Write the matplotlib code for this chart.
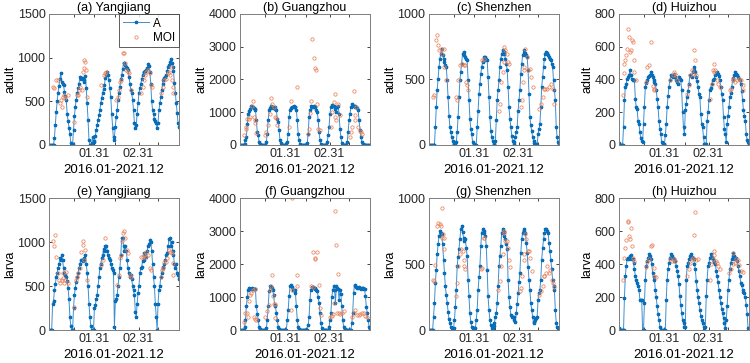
import numpy as np
import matplotlib
matplotlib.use('Agg')
import matplotlib.pyplot as plt

plt.rcParams['font.family'] = ['Liberation Sans', 'DejaVu Sans']

# semi-monthly series, 2016.01 - 2021.12 (24 values per year)
yj_adult = [0,0,0,0,0,0,80,230,380,500,600,680,760,820,720,700,690,610,560,520,350,280,200,130,20,0,
            10,170,330,440,520,590,650,700,780,760,770,760,740,720,790,650,480,290,60,0,0,20,95,
            40,38,100,172,230,286,340,400,477,540,592,640,687,763,801,832,800,740,650,550,360,200,57,
            95,210,320,400,515,600,668,750,800,870,935,935,916,897,880,860,782,700,630,600,515,400,250,
            200,230,350,480,600,650,700,750,800,830,840,850,860,880,930,900,830,700,500,400,350,300,280,250,190,
            250,400,480,553,630,700,744,763,780,800,850,897,916,950,985,940,897,850,706,600,477,370,248,210]
gz_adult = [0,0,0,0,0,40,150,245,650,960,1050,1110,1180,1170,1160,1140,1100,1080,755,400,300,90,20,0,
            0,0,0,0,0,90,347,755,1060,1120,1180,1160,1140,1120,1110,1160,1060,806,704,450,143,50,0,0,
            0,0,0,0,90,347,857,1060,1120,1160,1170,1180,1170,1160,1060,755,347,143,30,0,0,0,0,0,
            0,0,50,347,857,1060,1180,1170,1160,1180,1170,1160,1060,1000,755,400,143,30,0,0,0,0,0,0,
            90,300,550,960,1160,1210,1190,1180,1150,1100,1000,1160,1180,960,500,245,60,0,0,0,0,0,90,400,
            750,960,1160,1245,1200,1180,1170,1180,1160,1140,1060,755,450,245,90,20,0,0,0,0,0,0,0,0]
sz_adult = [0,0,0,0,0,0,0,135,289,417,506,596,660,698,729,690,660,634,610,596,494,366,225,135,97,59,30,8,
            8,0,20,100,212,366,494,560,621,698,711,690,672,660,647,494,340,200,120,84,20,8,
            0,0,0,135,263,391,468,545,596,634,650,672,668,660,647,519,366,212,110,59,30,8,
            0,33,187,340,420,494,596,660,698,724,710,698,660,620,570,442,289,200,135,72,30,8,
            20,59,100,135,263,340,417,545,621,685,700,724,700,685,672,570,391,212,150,110,60,33,15,8,
            8,0,84,120,161,289,442,520,596,660,698,711,700,685,672,660,647,620,596,494,420,340,135,60,20,8]
hz_adult = [10,0,0,0,0,108,272,354,374,405,415,425,456,425,400,395,399,395,282,231,221,149,129,78,40,27,20,130,
            231,354,380,395,415,420,425,446,430,415,395,385,374,333,280,231,149,100,68,16,6,6,6,
            60,129,231,300,354,395,425,420,415,436,430,415,395,385,374,415,400,395,333,200,108,68,
            211,252,292,330,374,425,420,415,446,460,477,446,415,390,354,310,292,190,130,108,47,6,6,6,
            149,200,272,333,350,374,395,400,405,425,440,446,436,420,395,354,310,272,170,100,68,16,
            129,180,231,292,320,354,395,410,425,446,435,425,415,405,395,374,330,272,211,180,149,68,30,16,6]
yj_larva = [0,0,0,0,300,330,450,520,600,650,700,750,820,800,850,800,700,650,620,600,560,480,350,150,50,0,
            0,250,400,480,550,600,650,700,750,800,800,780,800,820,850,750,650,500,300,150,50,0,0,0,250,
            280,350,400,500,600,700,750,820,850,900,920,950,960,900,850,820,800,750,700,680,650,30,
            330,350,400,500,600,700,850,1040,1050,950,900,950,900,800,700,650,600,620,580,500,450,400,200,150,
            300,420,500,650,700,720,780,800,870,850,830,900,950,980,1020,1000,900,750,600,500,300,150,0,
            300,450,500,600,650,700,720,750,800,850,880,950,1030,1040,950,1000,900,850,750,700,750,650,620,580]
gz_larva = [0,0,0,0,0,100,306,714,1000,1224,1275,1250,1240,1260,1230,1250,1240,1230,714,500,306,102,20,0,
            0,0,0,0,0,50,306,714,1173,1326,1300,1275,1200,1071,765,714,510,306,102,30,0,0,0,0,
            0,0,0,0,306,600,1020,1326,1377,1300,1224,1224,1200,1122,714,306,100,20,0,0,0,0,0,0,
            0,0,0,150,400,918,1224,1306,1290,1275,1260,1250,1224,1173,1000,816,510,204,50,0,0,0,0,0,
            0,0,100,300,510,1000,1224,1326,1224,816,1326,1275,1250,918,1224,1100,714,306,102,20,0,0,0,0,
            0,0,0,200,510,1122,1377,1326,1300,1280,1275,1290,1275,1250,1270,1260,1240,1250,1020,700,510,300,102,20]
sz_larva = [0,0,0,0,0,102,204,356,458,573,649,713,751,738,725,649,534,433,330,267,204,140,80,51,20,13,10,13,
            76,178,305,484,550,611,687,763,789,740,700,674,687,620,560,382,254,127,60,25,13,10,13,13,
            76,153,305,400,484,636,738,763,750,738,713,636,458,254,150,76,40,13,13,30,51,
            100,127,204,331,484,560,636,738,763,740,713,687,650,611,382,250,178,115,102,95,102,76,60,
            127,200,280,360,433,585,687,738,763,750,738,662,585,480,382,300,204,150,102,51,60,76,90,102,
            229,280,305,382,534,620,687,738,763,763,750,738,662,600,534,460,382,331,305,150,51,20,13,13]
hz_larva = [10,0,0,0,0,0,194,327,388,429,439,429,449,453,429,429,408,367,327,306,286,265,245,184,180,184,0,
            0,163,306,388,418,439,459,449,429,400,347,320,306,245,200,143,100,61,20,0,0,0,0,
            0,0,184,306,367,408,439,459,449,439,418,429,420,388,360,327,280,204,150,102,60,40,20,20,
            306,388,408,429,449,459,445,435,429,400,367,300,245,200,163,120,82,60,41,20,0,20,204,
            306,388,408,439,459,440,429,418,410,398,360,327,290,245,200,163,130,102,70,41,10,60,
            143,245,306,367,408,429,449,469,449,429,439,420,388,360,327,286,270,245,230,224,200,150,100,10,0]

# MOI estimates: time index and value
yj_adult_moi_t = [4,6,8,10,12,13,14,15,16,18,21,28,31,32,33,34,36,37,38,39,40,41,42,57,61,62,63,
                  74,76,77,78,79,81,83,84,85,87,88,90,101,103,104,106,107,109,111,112,113,
                  123,125,127,129,131,132,133,134,135,136,137]
yj_adult_moi_v = [668,649,744,744,477,515,439,553,572,534,572,267,572,572,630,668,630,840,878,973,954,860,553,687,800,828,832,
                  515,553,630,725,744,1050,1050,935,860,840,820,630,592,668,744,800,840,860,820,687,668,
                  592,668,744,752,820,840,800,897,744,668,592]
gz_adult_moi_t = [4,7,7,8,10,11,13,14,15,16,17,18,28,29,31,33,34,35,37,39,40,41,54,56,63,
                  75,76,77,78,79,81,82,84,85,86,88,100,101,103,104,105,106,108,110,
                  121,122,123,125,126,127,128,130,132,133,134]
gz_adult_moi_v = [296,500,551,785,806,857,1183,1336,857,775,673,367,296,398,602,959,1448,1265,1163,857,826,612,551,1336,1775,
                  347,500,990,1336,3223,2642,2336,2285,1244,500,449,551,1010,1316,857,1571,755,1265,908,
                  245,398,551,1652,908,775,1163,551,428,398,347]
sz_adult_moi_t = [4,6,8,9,10,11,13,14,16,17,19,30,31,32,34,36,38,40,41,42,43,58,61,
                  77,78,79,81,82,83,84,86,87,88,101,102,103,104,105,106,108,109,111,112,114,
                  121,123,125,126,128,130,132,134,136,138]
sz_adult_moi_v = [366,378,800,839,762,724,729,698,729,596,494,366,345,494,609,621,609,609,481,455,422,647,660,
                  263,315,481,557,634,749,724,698,634,621,289,340,481,570,596,736,672,570,583,519,442,
                  276,315,366,430,430,430,442,468,430,315]
hz_adult_moi_t = [4,5,6,7,8,9,10,11,12,13,14,15,16,17,19,30,31,33,35,37,38,39,56,59,61,63,64,
                  75,77,78,80,81,82,84,85,100,102,103,104,105,106,108,109,111,
                  122,123,125,126,128,130,132,134,136,137]
hz_adult_moi_v = [303,440,497,518,548,589,706,661,569,579,644,630,518,446,395,385,477,487,630,358,344,333,395,425,446,425,395,
                  313,364,425,456,436,579,522,425,282,374,456,446,497,456,395,374,354,
                  333,344,395,405,385,399,405,399,364,333]
yj_larva_moi_t = [4,6,7,8,10,11,12,14,15,15,16,18,19,21,28,30,31,32,34,35,37,37,38,40,42,57,59,62,
                  75,77,78,79,80,81,83,84,86,87,89,90,101,103,104,106,107,109,111,112,
                  123,124,126,127,129,130,132,133,135,136,137]
yj_larva_moi_v = [1006,949,1082,835,645,570,531,570,588,645,531,570,664,531,266,570,607,645,702,892,1006,968,797,911,570,740,797,1044,
                  513,626,816,854,1006,1101,1120,1044,911,873,626,607,835,835,854,835,892,854,702,683,
                  607,683,702,778,778,816,911,892,873,759,626]
gz_larva_moi_t = [4,6,8,9,10,11,12,14,15,16,17,18,28,30,32,33,34,35,36,37,38,39,56,57,57,63,63,
                  78,80,80,82,83,85,87,88,89,99,101,102,103,105,106,107,108,109,110,112,114,
                  123,125,127,129,131,132,134,136,138,140]
gz_larva_moi_v = [255,510,530,408,867,1071,1122,1224,408,1244,326,306,408,561,765,1224,1326,1652,1020,796,796,357,612,4009,1224,1663,1326,
                  1326,1306,2366,2142,2193,2366,1377,663,459,408,428,490,816,3621,2570,510,1703,510,479,530,561,
                  388,510,592,459,459,490,510,530,428,388]
sz_larva_moi_t = [4,6,7,9,10,12,13,14,14,15,16,17,30,31,32,34,35,37,38,39,40,57,58,60,61,
                  76,78,79,81,82,83,84,86,87,88,89,100,101,102,104,105,106,107,109,110,111,113,
                  121,123,125,126,127,129,130,132,133,135,136,138]
sz_larva_moi_v = [382,369,496,789,814,802,789,921,700,725,700,611,254,356,484,573,611,598,534,484,463,463,471,700,700,
                  305,369,484,573,738,751,674,674,623,534,478,293,318,407,534,573,725,687,598,598,547,445,
                  267,293,331,407,407,433,484,433,458,382,356,326]
hz_larva_moi_t = [4,5,7,8,10,10,11,12,13,14,15,16,30,31,33,35,36,38,39,41,56,58,60,62,
                  75,77,78,80,81,83,84,85,87,100,101,103,104,105,107,108,109,111,
                  121,123,125,126,128,129,131,132,134,136]
hz_larva_moi_v = [306,439,500,547,657,663,571,551,616,510,439,418,384,412,429,510,514,378,327,322,429,418,429,418,
                  327,367,408,429,439,576,714,424,429,306,398,429,453,480,418,408,388,367,
                  343,367,398,465,404,429,424,392,357,351]

titles = ['(a) Yangjiang', '(b) Guangzhou', '(c) Shenzhen', '(d) Huizhou',
          '(e) Yangjiang', '(f) Guangzhou', '(g) Shenzhen', '(h) Huizhou']
ylabels = ['adult'] * 4 + ['larva'] * 4
series_a = [yj_adult, gz_adult, sz_adult, hz_adult, yj_larva, gz_larva, sz_larva, hz_larva]
moi_t = [yj_adult_moi_t, gz_adult_moi_t, sz_adult_moi_t, hz_adult_moi_t,
         yj_larva_moi_t, gz_larva_moi_t, sz_larva_moi_t, hz_larva_moi_t]
moi_v = [yj_adult_moi_v, gz_adult_moi_v, sz_adult_moi_v, hz_adult_moi_v,
         yj_larva_moi_v, gz_larva_moi_v, sz_larva_moi_v, hz_larva_moi_v]
ymax = [1500, 4000, 1000, 800, 1500, 4000, 1000, 800]
ystep = [500, 1000, 500, 200, 500, 1000, 500, 200]
xtick_pos = [27, 49.5, 73, 98.5, 119.5]
xtick_lab = ['', '01.31', '', '02.31', '']

fig = plt.figure(figsize=(7.5, 3.63), dpi=100)
lefts = [0.0653, 0.32, 0.572, 0.8253]
bottoms = [0.6006, 0.0909]
w = 0.1733
hs = [0.3609, 0.3636]

for k in range(8):
    r, c = divmod(k, 4)
    ax = fig.add_axes([lefts[c], bottoms[r], w, hs[r]])
    t = np.arange(len(series_a[k]))
    ax.plot(t, series_a[k], color='#3d8fd1', lw=0.7, marker='*', ms=2.4,
            mfc='#0a6db8', mec='#0a6db8', label='A')
    ax.plot(moi_t[k], moi_v[k], ls='none', marker='o', ms=2.4, mfc='none',
            mec='#e8825a', mew=0.55, label='MOI')
    ax.set_xlim(0, len(series_a[k]) - 1)
    ax.set_ylim(0, ymax[k])
    ax.set_yticks(np.arange(0, ymax[k] + 1, ystep[k]))
    ax.set_xticks(xtick_pos)
    ax.set_xticklabels(xtick_lab)
    ax.tick_params(direction='in', top=True, right=True, length=2.5, width=0.6,
                   labelsize=9, pad=2.5, colors='#262626')
    for s in ax.spines.values():
        s.set_color('#7f7f7f')
        s.set_linewidth(0.7)
    ax.set_title(titles[k], fontsize=9, pad=2)
    ax.set_ylabel(ylabels[k], fontsize=9, labelpad=1)
    ax.set_xlabel('2016.01-2021.12', fontsize=9.5, labelpad=2.5)
    if k == 0:
        leg = ax.legend(loc='upper right', fontsize=8.5, borderaxespad=0, handlelength=2.2,
                        handletextpad=0.4, borderpad=0.3, labelspacing=0.2, fancybox=False)
        leg.get_frame().set_edgecolor('#333333')
        leg.get_frame().set_linewidth(0.7)

fig.savefig('out.png', dpi=100)
